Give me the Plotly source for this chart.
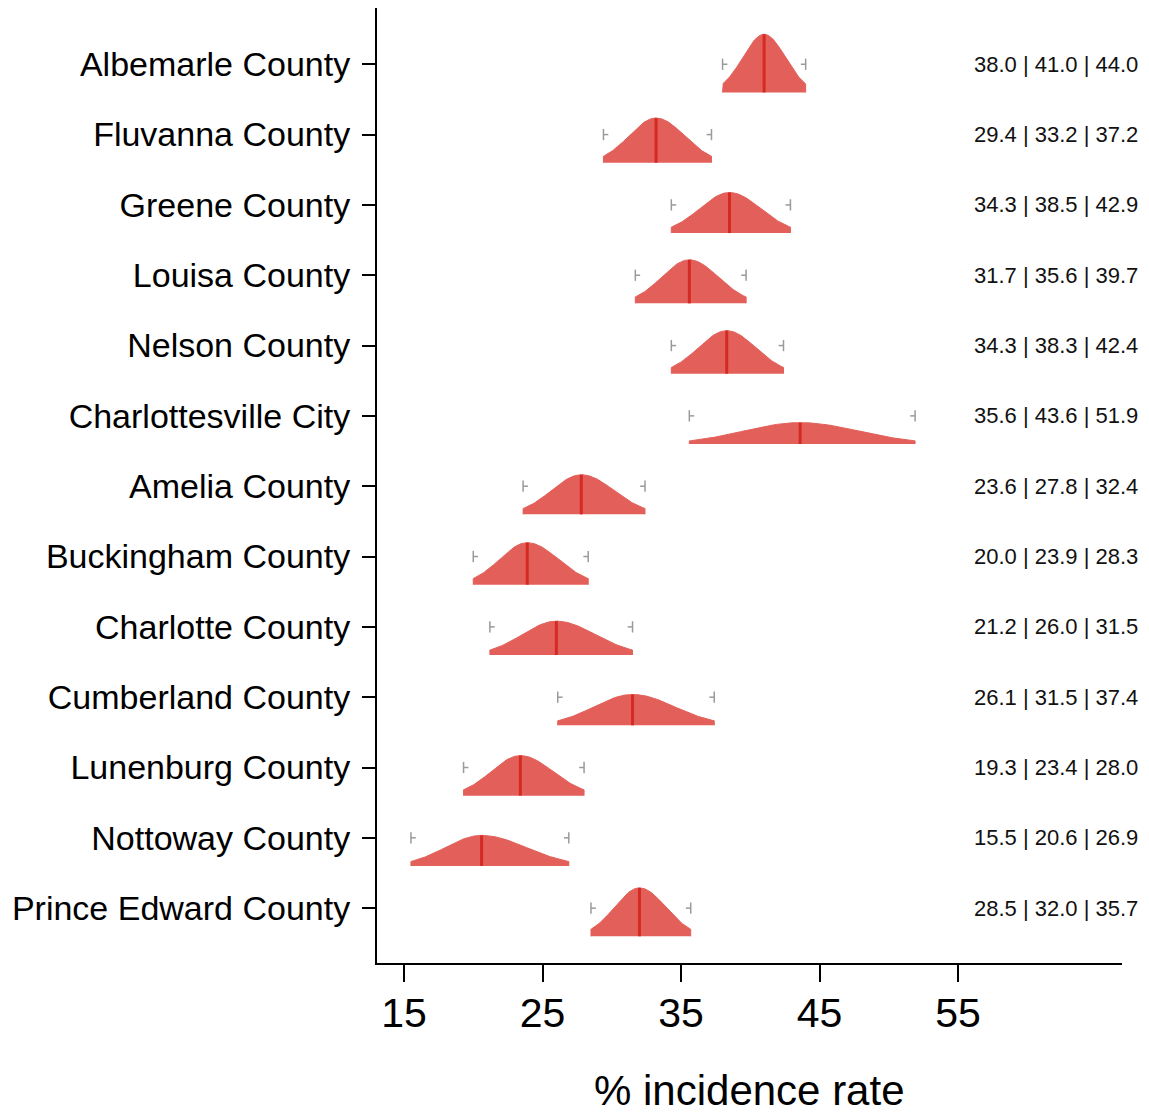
import numpy as np
import plotly.graph_objects as go

counties = ["Albemarle County", "Fluvanna County", "Greene County", "Louisa County",
            "Nelson County", "Charlottesville City", "Amelia County", "Buckingham County",
            "Charlotte County", "Cumberland County", "Lunenburg County", "Nottoway County",
            "Prince Edward County"]
lower = [38.0, 29.4, 34.3, 31.7, 34.3, 35.6, 23.6, 20.0, 21.2, 26.1, 19.3, 15.5, 28.5]
median = [41.0, 33.2, 38.5, 35.6, 38.3, 43.6, 27.8, 23.9, 26.0, 31.5, 23.4, 20.6, 32.0]
upper = [44.0, 37.2, 42.9, 39.7, 42.4, 51.9, 32.4, 28.3, 31.5, 37.4, 28.0, 26.9, 35.7]
x_ticks = [15, 25, 35, 45, 55]

FILL = "#E3605A"
MED = "#D42A22"
WHISK = "#9A9A9A"
BASE_OFF = 0.4      # baseline below row centre (row units)
DENS_SCALE = 3.17   # density -> row units

fig = go.Figure()
for i, (lo, me, hi) in enumerate(zip(lower, median, upper)):
    sl = (me - lo) / 1.96
    sr = (hi - me) / 1.96
    A = 2.0 / (np.sqrt(2 * np.pi) * (sl + sr))
    xs = np.linspace(lo, hi, 120)
    s = np.where(xs < me, sl, sr)
    dens = A * np.exp(-((xs - me) ** 2) / (2 * s ** 2))
    base = i + BASE_OFF
    ys = base - DENS_SCALE * dens
    px_ = np.concatenate([[lo], xs, [hi]])
    py_ = np.concatenate([[base], ys, [base]])
    fig.add_trace(go.Scatter(x=px_, y=py_, mode="lines", fill="toself",
                             fillcolor=FILL, line=dict(color=FILL, width=1),
                             hoverinfo="skip", showlegend=False))
    # median line
    fig.add_trace(go.Scatter(x=[me, me], y=[base, base - DENS_SCALE * A], mode="lines",
                             line=dict(color=MED, width=3), hoverinfo="skip",
                             showlegend=False))
    # whiskers
    stub = 0.35
    fig.add_trace(go.Scatter(
        x=[lo, lo, None, lo, lo + stub, None, hi, hi, None, hi, hi - stub],
        y=[i - 0.08, i + 0.08, None, i, i, None, i - 0.08, i + 0.08, None, i, i],
        mode="lines", line=dict(color=WHISK, width=1.5), hoverinfo="skip",
        showlegend=False))
    fig.add_annotation(x=1.0245, xref="paper", y=i, yref="y",
                       text=f"{lo:.1f} | {me:.1f} | {hi:.1f}", showarrow=False,
                       xanchor="right", yanchor="middle",
                       font=dict(size=22, color="#111111", family="Liberation Sans"))

fig.add_annotation(x=0.5, xref="paper", y=-0.134, yref="paper", text="% incidence rate",
                   showarrow=False, xanchor="center", yanchor="middle",
                   font=dict(size=42, color="black", family="Liberation Sans"))

fig.update_layout(
    width=1149, height=1115,
    margin=dict(l=377, r=27, t=8, b=152),
    plot_bgcolor="white", paper_bgcolor="white",
    font=dict(family="Liberation Sans", color="black"),
)
fig.update_xaxes(range=[13.05, 66.84], tickvals=x_ticks, ticktext=[str(t) for t in x_ticks],
                 showgrid=False, zeroline=False, showline=True, linecolor="black",
                 linewidth=2, ticks="outside", ticklen=17, tickwidth=2, tickcolor="black",
                 tickfont=dict(size=41, color="black"), ticklabelstandoff=-4)
fig.update_yaxes(range=[12.78, -0.80], tickvals=list(range(len(counties))),
                 ticktext=counties, showgrid=False, zeroline=False, showline=True,
                 linecolor="black", linewidth=2, ticks="outside", ticklen=13, tickwidth=2,
                 tickcolor="black", tickfont=dict(size=34, color="black"),
                 ticklabelstandoff=5)

fig.write_html("out.html", config={"displayModeBar": False},
               post_script="document.body.style.margin='0';"
                           "document.body.style.overflow='hidden';")
